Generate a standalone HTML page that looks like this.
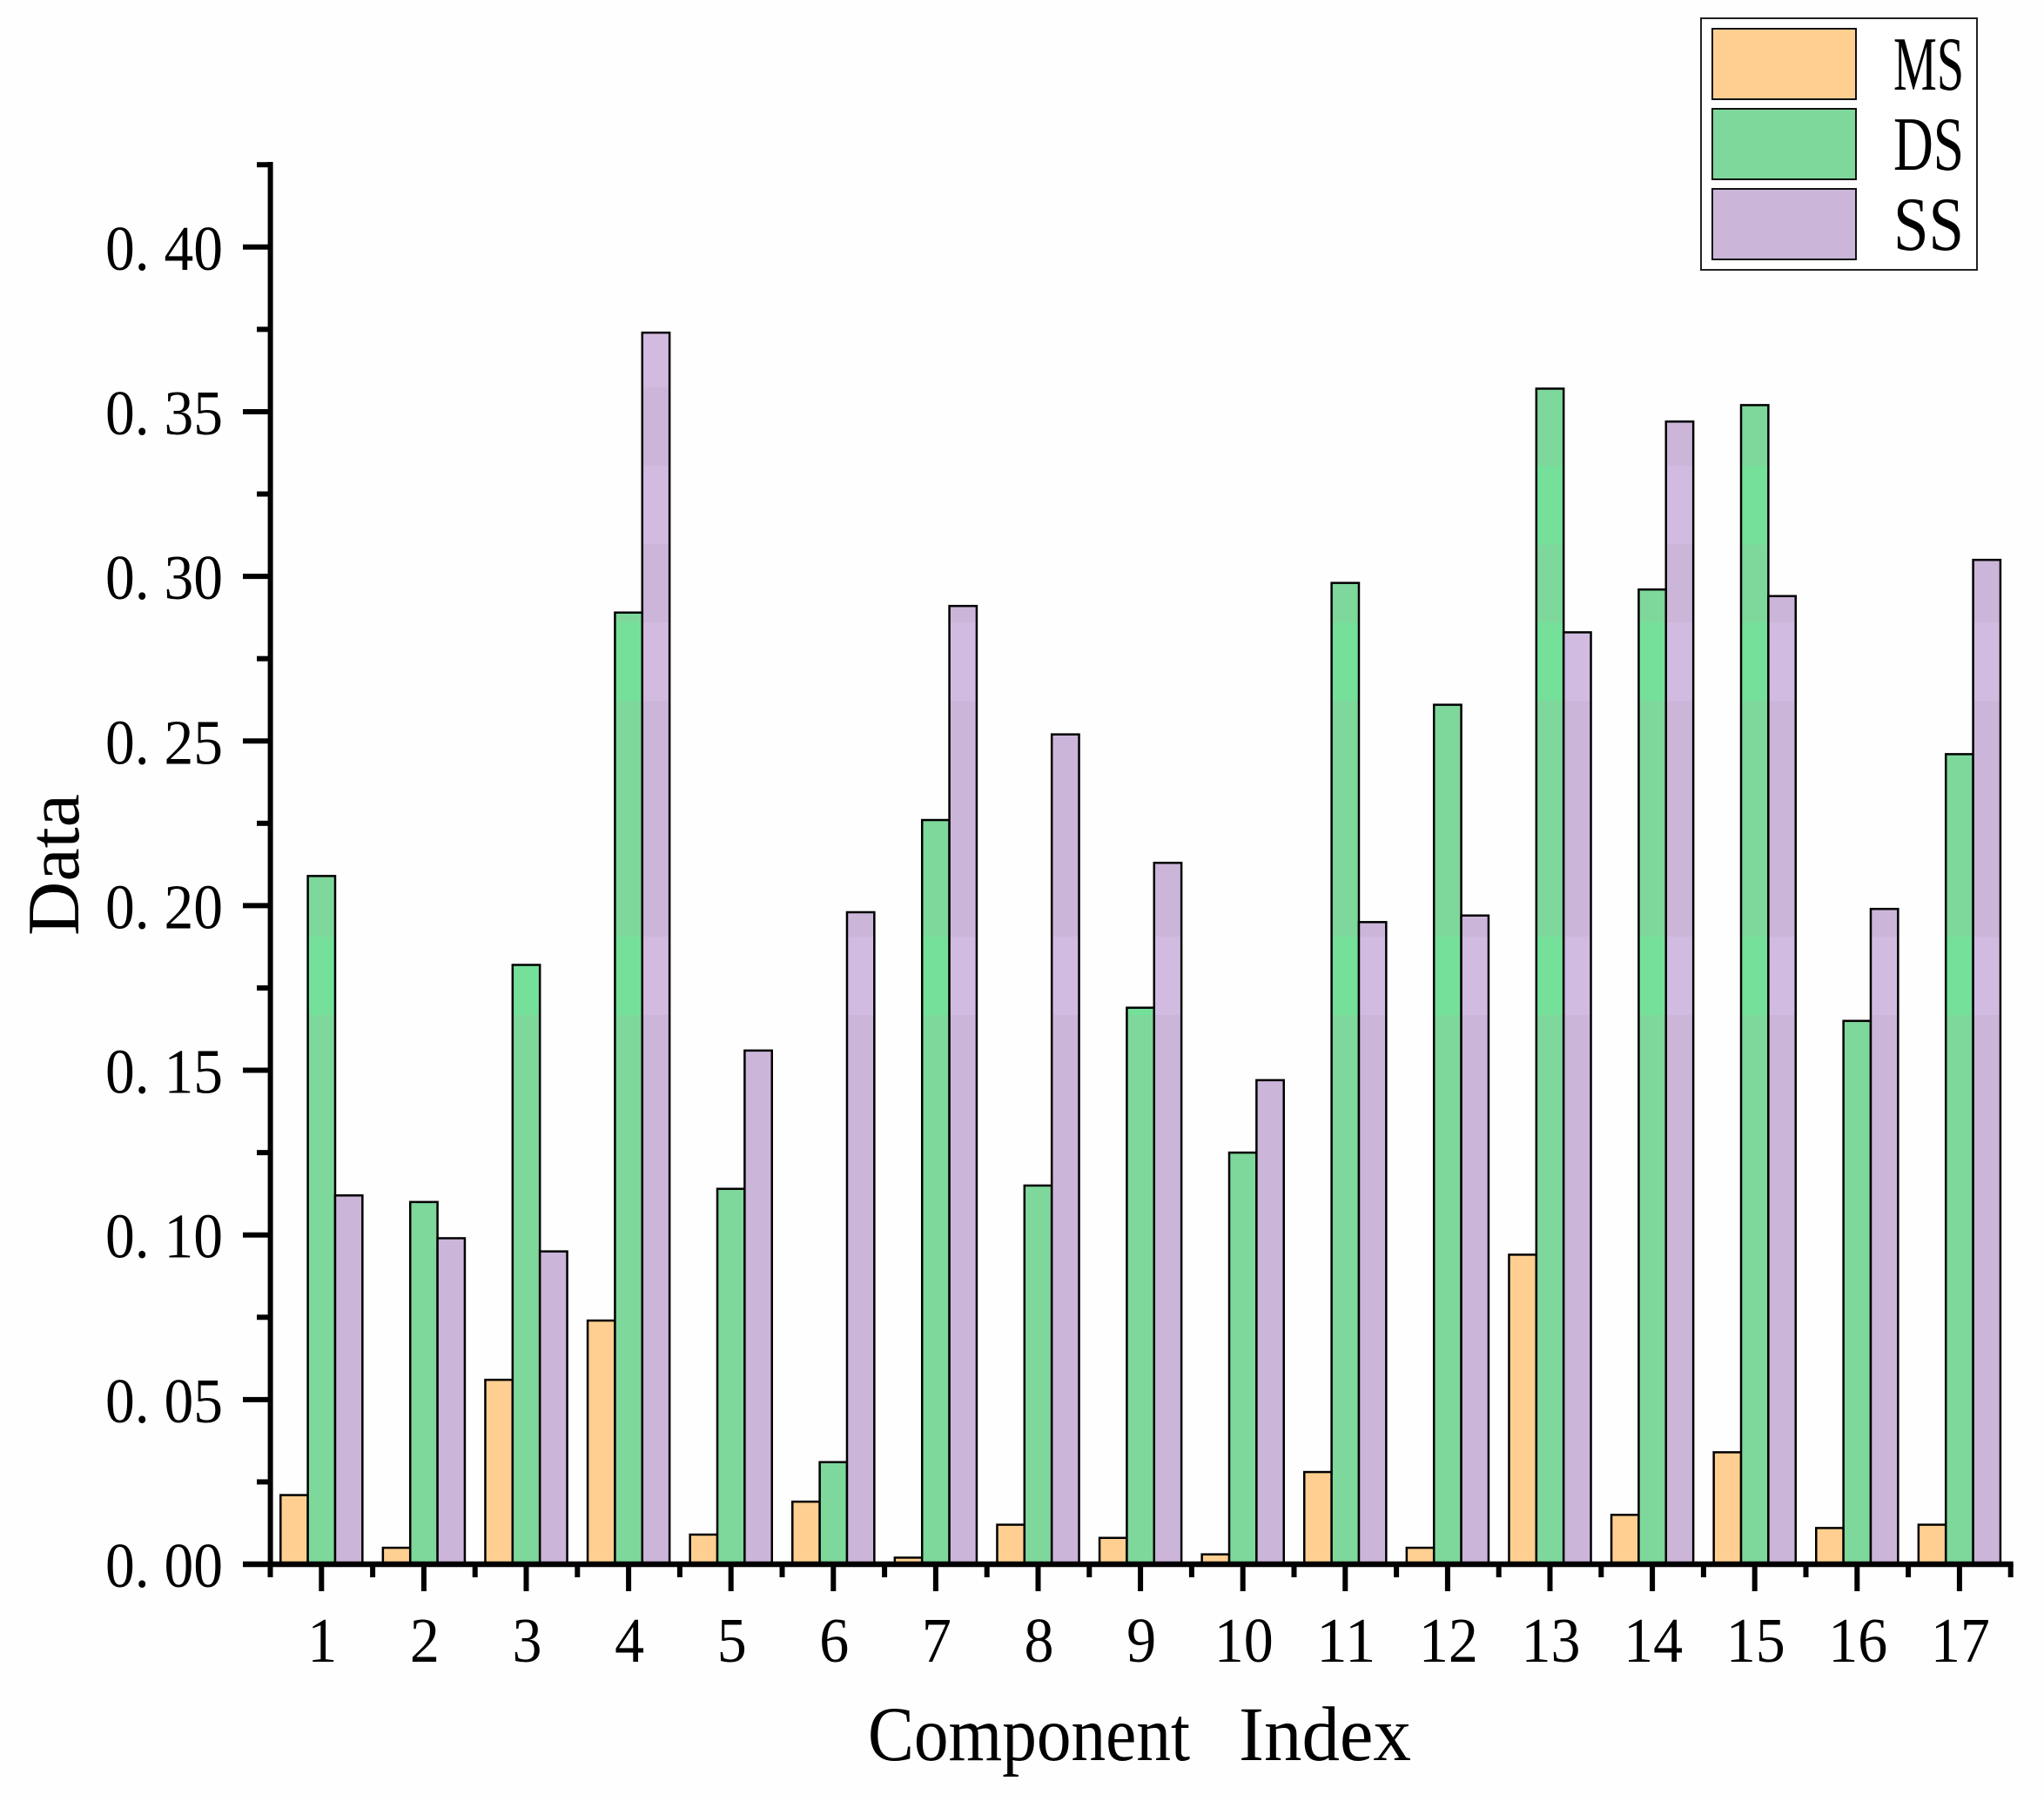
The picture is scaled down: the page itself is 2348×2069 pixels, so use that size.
<!DOCTYPE html>
<html lang="en">
<head>
<meta charset="utf-8">
<title>Component Index bar chart</title>
<style>
html,body{margin:0;padding:0;background:#fefefe;}
svg{display:block;}
text{font-family:"Liberation Serif","Noto Serif CJK SC",serif;fill:#000;}
</style>
</head>
<body>
<svg id="chart" xmlns="http://www.w3.org/2000/svg" width="2348" height="2069" viewBox="0 0 2348 2069">
  <defs>
    <linearGradient id="green-bands" gradientUnits="userSpaceOnUse" x1="0" y1="0" x2="0" y2="2069">
      <stop offset="0" stop-color="#7ed79b"/>
      <stop offset="0.2586" stop-color="#7ed79b"/><stop offset="0.2586" stop-color="#74e09a"/>
      <stop offset="0.3023" stop-color="#74e09a"/><stop offset="0.3023" stop-color="#7ed79b"/>
      <stop offset="0.3456" stop-color="#7ed79b"/><stop offset="0.3456" stop-color="#74e09a"/>
      <stop offset="0.3891" stop-color="#74e09a"/><stop offset="0.3891" stop-color="#7ed79b"/>
      <stop offset="0.5201" stop-color="#7ed79b"/><stop offset="0.5201" stop-color="#74e09a"/>
      <stop offset="0.5636" stop-color="#74e09a"/><stop offset="0.5636" stop-color="#7ed79b"/>
      <stop offset="1" stop-color="#7ed79b"/>
    </linearGradient>
    <linearGradient id="purple-bands" gradientUnits="userSpaceOnUse" x1="0" y1="0" x2="0" y2="2069">
      <stop offset="0" stop-color="#d2bbe0"/>
      <stop offset="0.2151" stop-color="#d2bbe0"/><stop offset="0.2151" stop-color="#cbb5d8"/>
      <stop offset="0.2586" stop-color="#cbb5d8"/><stop offset="0.2586" stop-color="#d2bbe0"/>
      <stop offset="0.3021" stop-color="#d2bbe0"/><stop offset="0.3021" stop-color="#cbb5d8"/>
      <stop offset="0.3456" stop-color="#cbb5d8"/><stop offset="0.3456" stop-color="#d2bbe0"/>
      <stop offset="0.3891" stop-color="#d2bbe0"/><stop offset="0.3891" stop-color="#cbb5d8"/>
      <stop offset="0.5201" stop-color="#cbb5d8"/><stop offset="0.5201" stop-color="#d2bbe0"/>
      <stop offset="0.5636" stop-color="#d2bbe0"/><stop offset="0.5636" stop-color="#cbb5d8"/>
      <stop offset="1" stop-color="#cbb5d8"/>
    </linearGradient>
  </defs>
  <g id="bars"></g>
  <g id="axes"></g>
  <g id="tick-labels"></g>
  <text y="2022" font-size="89"><tspan x="997" textLength="370" lengthAdjust="spacingAndGlyphs">Component</tspan> <tspan x="1423" textLength="198" lengthAdjust="spacingAndGlyphs">Index</tspan></text>
  <text transform="translate(90 1075) rotate(-90)" font-size="85" textLength="163" lengthAdjust="spacingAndGlyphs">Data</text>
  <g>
    <rect x="1954" y="21" width="317" height="289" fill="#ffffff" stroke="#222222" stroke-width="2"/>
    <rect x="1967" y="33" width="165" height="81" fill="#fecf91" stroke="#111111" stroke-width="2"/>
    <rect x="1967" y="125" width="165" height="81" fill="#7ed79b" stroke="#111111" stroke-width="2"/>
    <rect x="1967" y="217" width="165" height="81" fill="#cbb5d8" stroke="#111111" stroke-width="2"/>
    <text x="2175" y="103" font-size="88" textLength="81" lengthAdjust="spacingAndGlyphs">MS</text>
    <text x="2175" y="195" font-size="88" textLength="81" lengthAdjust="spacingAndGlyphs">DS</text>
    <text x="2175" y="287" font-size="88" textLength="81" lengthAdjust="spacingAndGlyphs">SS</text>
  </g>
</svg>
<script>
const categories = ["1","2","3","4","5","6","7","8","9","10","11","12","13","14","15","16","17"];
const msValues = [0.021,0.005,0.056,0.074,0.009,0.019,0.002,0.012,0.008,0.003,0.028,0.005,0.094,0.015,0.034,0.011,0.012];
const dsValues = [0.209,0.110,0.182,0.289,0.114,0.031,0.226,0.115,0.169,0.125,0.298,0.261,0.357,0.296,0.352,0.165,0.246];
const ssValues = [0.112,0.099,0.095,0.374,0.156,0.198,0.291,0.252,0.213,0.147,0.195,0.197,0.283,0.347,0.294,0.199,0.305];
const yMajorTicks = [0,0.05,0.10,0.15,0.20,0.25,0.30,0.35,0.40];
const yMinorTicks = [0.025,0.075,0.125,0.175,0.225,0.275,0.325,0.375,0.425];
const yTickLabels = ["0. 00","0. 05","0. 10","0. 15","0. 20","0. 25","0. 30","0. 35","0. 40"];

const NS = "http://www.w3.org/2000/svg";
const BASE_Y = 1797, PX_PER_UNIT = 3783, FIRST_X = 369.3, STEP_X = 117.6;
function yScale(v){ return BASE_Y - v * PX_PER_UNIT; }
function xScale(i){ return FIRST_X + STEP_X * i; }
const BAR_W = STEP_X * 0.8 / 3;

function make(tag, attrs, parent){
  const el = document.createElementNS(NS, tag);
  for (const k in attrs) el.setAttribute(k, attrs[k]);
  parent.appendChild(el);
  return el;
}

const barsG = document.getElementById("bars");
const axesG = document.getElementById("axes");
const labelsG = document.getElementById("tick-labels");

function drawSeries(values, seriesName, offset, fill){
  values.forEach(function(v, i){
    const x = xScale(i) - BAR_W * 1.5 + BAR_W * offset;
    const y = yScale(v);
    const r = make("rect", {x: x, y: y, width: BAR_W, height: BASE_Y - y, fill: fill, stroke: "#000", "stroke-width": 2.5}, barsG);
    
    
  });
}
drawSeries(msValues, "ms", 0, "#fecf91");
drawSeries(dsValues, "ds", 1, "url(#green-bands)");
drawSeries(ssValues, "ss", 2, "url(#purple-bands)");

const yAxisLine = make("line", {x1: 310.6, x2: 310.6, y1: 186, y2: BASE_Y + 3, stroke: "#000", "stroke-width": 6}, axesG);


const xAxisLine = make("line", {x1: 279, x2: xScale(categories.length - 1) + STEP_X / 2 + 3, y1: BASE_Y, y2: BASE_Y, stroke: "#000", "stroke-width": 6.5}, axesG);



yMajorTicks.forEach(function(v, i){
  const t = make("line", {x1: 279, x2: 310, y1: yScale(v), y2: yScale(v), stroke: "#000", "stroke-width": 6}, axesG);
  
  
  const l = make("text", {x: 256, y: yScale(v) + 26, "font-size": 73, "text-anchor": "end", textLength: 135, lengthAdjust: "spacingAndGlyphs"}, labelsG);
  l.setAttribute('xml:space', 'preserve');
  
  
  l.textContent = yTickLabels[i];
});
yMinorTicks.forEach(function(v){
  const t = make("line", {x1: 295, x2: 310, y1: yScale(v), y2: yScale(v), stroke: "#000", "stroke-width": 6}, axesG);
  
  
});
categories.forEach(function(c, i){
  const t = make("line", {x1: xScale(i), x2: xScale(i), y1: BASE_Y, y2: 1828, stroke: "#000", "stroke-width": 6}, axesG);
  
  
  const m = make("line", {x1: xScale(i) - STEP_X / 2, x2: xScale(i) - STEP_X / 2, y1: BASE_Y, y2: 1812, stroke: "#000", "stroke-width": 6}, axesG);
  
  
  const l = make("text", {x: xScale(i) + 1, y: 1909, "font-size": 73, "text-anchor": "middle", textLength: 34 * c.length, lengthAdjust: "spacingAndGlyphs"}, labelsG);
  
  
  l.textContent = c;
});
const endTick = make("line", {x1: xScale(categories.length - 1) + STEP_X / 2, x2: xScale(categories.length - 1) + STEP_X / 2, y1: BASE_Y, y2: 1812, stroke: "#000", "stroke-width": 6}, axesG);


</script>
</body>
</html>
